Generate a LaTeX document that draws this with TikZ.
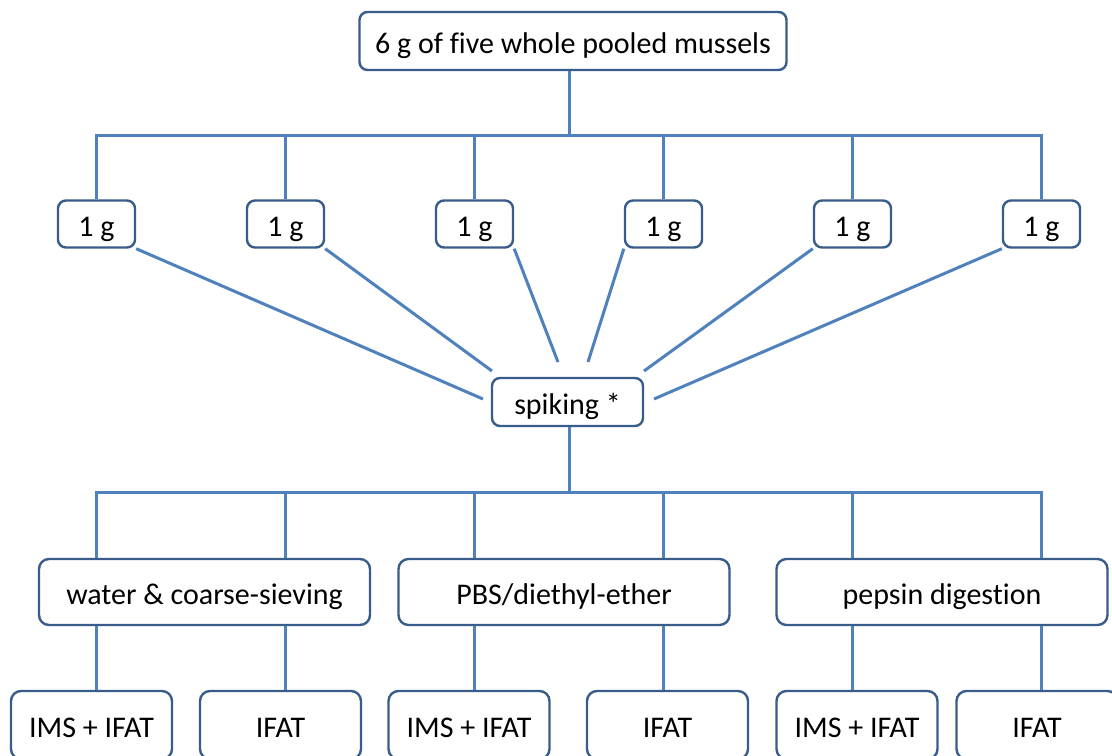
\documentclass[tikz,border=0pt]{standalone}
\usepackage{fontspec}
\setmainfont{Carlito}[Ligatures=CommonOff]
\usepackage{xcolor}
\usepackage{tikz}
\definecolor{boxline}{RGB}{56,93,138}
\definecolor{linkline}{RGB}{79,129,189}

\begin{document}
\begin{tikzpicture}[x=0.5pt,y=0.5pt]
\tikzstyle{every node}+=[inner sep=0pt,font=\fontsize{15}{18}\selectfont,text height=15pt,text depth=2.4pt]
\tikzstyle{box}=[draw=boxline,line width=1.2pt,rounded corners=4pt,fill=white]
\tikzstyle{link}=[draw=linkline,line width=1.5pt]
\clip (0,0) rectangle (1112,-755);
\fill [white] (0,0) rectangle (1112,-755);
\node [box,minimum width=213.5pt,minimum height=29pt] (pool) at (573,-41) {6 g of five whole pooled mussels};
\node [box,minimum width=38.5pt,minimum height=23.5pt] (g1) at (96.5,-224) {1 g};
\node [box,minimum width=38.5pt,minimum height=23.5pt] (g2) at (285.5,-224) {1 g};
\node [box,minimum width=38.5pt,minimum height=23.5pt] (g3) at (474.5,-224) {1 g};
\node [box,minimum width=38.5pt,minimum height=23.5pt] (g4) at (663.5,-224) {1 g};
\node [box,minimum width=38.5pt,minimum height=23.5pt] (g5) at (852.5,-224) {1 g};
\node [box,minimum width=38.5pt,minimum height=23.5pt] (g6) at (1041.5,-224) {1 g};
\node [box,minimum width=75.5pt,minimum height=24pt] (spike) at (567.5,-402) {spiking *};
\node [box,minimum width=165.5pt,minimum height=33pt,rounded corners=5pt] (water) at (204.5,-592) {water \& coarse-sieving};
\node [box,minimum width=165.5pt,minimum height=33pt,rounded corners=5pt] (pbs) at (564,-592) {PBS/diethyl-ether};
\node [box,minimum width=165.5pt,minimum height=33pt,rounded corners=5pt] (pepsin) at (942,-592) {pepsin digestion};
\node [box,minimum width=80.5pt,minimum height=34pt,rounded corners=5pt] (imsA) at (91.5,-725) {IMS + IFAT};
\node [box,minimum width=80.5pt,minimum height=34pt,rounded corners=5pt] (ifatA) at (280.5,-725) {IFAT};
\node [box,minimum width=80.5pt,minimum height=34pt,rounded corners=5pt] (imsB) at (469,-725) {IMS + IFAT};
\node [box,minimum width=80.5pt,minimum height=34pt,rounded corners=5pt] (ifatB) at (667.5,-725) {IFAT};
\node [box,minimum width=80.5pt,minimum height=34pt,rounded corners=5pt] (imsC) at (857,-725) {IMS + IFAT};
\node [box,minimum width=80.5pt,minimum height=34pt,rounded corners=5pt] (ifatC) at (1037,-725) {IFAT};
% bars
\coordinate (topbar) at (569,-135);
\coordinate (botbar) at (569,-492);
\draw [link] (pool.south -| topbar) -- (topbar);
\draw [link] (g1.north) -- (g1 |- topbar) -- (g6 |- topbar) -- (g6.north);
\draw [link] (g2.north) -- (g2 |- topbar);
\draw [link] (g3.north) -- (g3 |- topbar);
\draw [link] (g4.north) -- (g4 |- topbar);
\draw [link] (g5.north) -- (g5 |- topbar);
% into spiking
\coordinate (s1) at (483,-399);
\coordinate (s2) at (492,-371);
\coordinate (s3) at (558,-362);
\coordinate (s4) at (588,-362);
\coordinate (s5) at (644,-371);
\coordinate (s6) at (654,-399);
\draw [link] (g1.south east) -- (s1);
\draw [link] (g2.south east) -- (s2);
\draw [link] (g3.south east) -- (s3);
\draw [link] (g4.south west) -- (s4);
\draw [link] (g5.south west) -- (s5);
\draw [link] (g6.south west) -- (s6);
\draw [link] (spike.south -| botbar) -- (botbar);
\draw [link] (water.north -| g1) -- (g1 |- botbar) -- (g6 |- botbar) -- (pepsin.north -| g6);
\draw [link] (water.north -| g2) -- (g2 |- botbar);
\draw [link] (pbs.north -| g3) -- (g3 |- botbar);
\draw [link] (pbs.north -| g4) -- (g4 |- botbar);
\draw [link] (pepsin.north -| g5) -- (g5 |- botbar);
% methods
\draw [link] (water.south -| g1) -- (imsA.north -| g1);
\draw [link] (water.south -| g2) -- (ifatA.north -| g2);
\draw [link] (pbs.south -| g3) -- (imsB.north -| g3);
\draw [link] (pbs.south -| g4) -- (ifatB.north -| g4);
\draw [link] (pepsin.south -| g5) -- (imsC.north -| g5);
\draw [link] (pepsin.south -| g6) -- (ifatC.north -| g6);
\end{tikzpicture}
\end{document}
